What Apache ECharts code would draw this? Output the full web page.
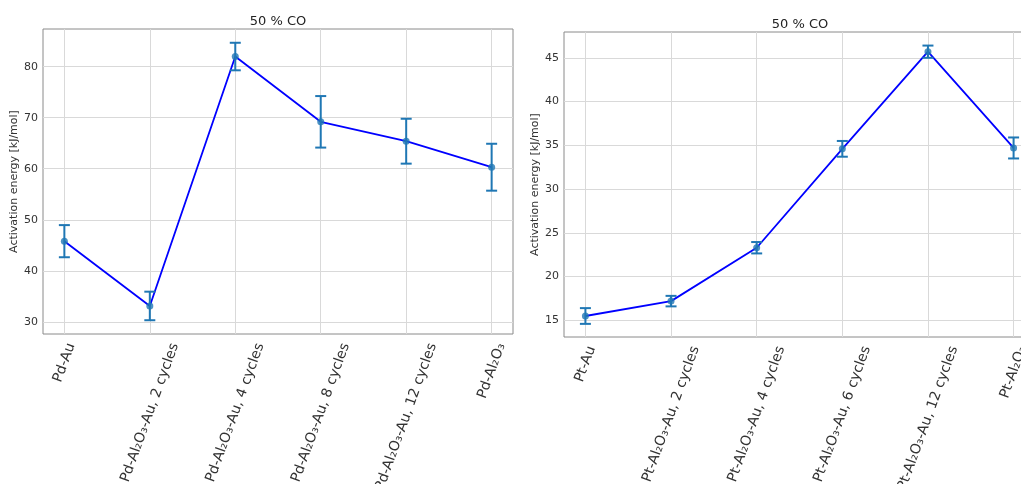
<!DOCTYPE html>
<html>
<head>
<meta charset="utf-8">
<script src="https://cdn.jsdelivr.net/npm/echarts@6/dist/echarts.min.js"></script>
<style>
  html, body { margin: 0; padding: 0; background: #ffffff; }
  #chart { width: 1021px; height: 484px; }
</style>
</head>
<body>
<div id="chart"></div>
<script>
// Activation energies at 50 % CO, Pd series (left panel) and Pt series (right panel)
const pdLabels = ['Pd-Au', 'Pd-Al₂O₃-Au, 2 cycles', 'Pd-Al₂O₃-Au, 4 cycles', 'Pd-Al₂O₃-Au, 8 cycles', 'Pd-Al₂O₃-Au, 12 cycles', 'Pd-Al₂O₃'];
const pdEnergy = [45.8, 33.1, 82.0, 69.2, 65.4, 60.3];
const pdError = [3.15, 2.8, 2.7, 5.05, 4.4, 4.6];
const pdTicks = [30, 40, 50, 60, 70, 80];

const ptLabels = ['Pt-Au', 'Pt-Al₂O₃-Au, 2 cycles', 'Pt-Al₂O₃-Au, 4 cycles', 'Pt-Al₂O₃-Au, 6 cycles', 'Pt-Al₂O₃-Au, 12 cycles', 'Pt-Al₂O₃'];
const ptEnergy = [15.5, 17.2, 23.3, 34.6, 45.7, 34.7];
const ptError = [0.9, 0.6, 0.65, 0.9, 0.7, 1.2];
const ptTicks = [15, 20, 25, 30, 35, 40, 45];

const titleText = '50 % CO';
const yName = 'Activation energy [kJ/mol]';

const FONT = '"DejaVu Sans", sans-serif';
const LABEL_SIZE = 14;
const LABEL_ROT = 70 * Math.PI / 180;
const TEXT = '#333333';
const GRID_LINE = '#d9d9d9';
const SPINE = '#8a8a8a';
const ERR_COLOR = '#1f77b4';

const measureCtx = document.createElement('canvas').getContext('2d');
measureCtx.font = LABEL_SIZE + 'px ' + FONT;
function textWidth(s) { return measureCtx.measureText(s).width; }

const chart = echarts.init(document.getElementById('chart'), null, { renderer: 'canvas' });

function xAxisFor(gridIndex) {
  return {
    type: 'value', gridIndex: gridIndex, min: -0.25, max: 5.25,
    axisLine: { show: false },
    axisTick: { show: false, customValues: [0, 1, 2, 3, 4, 5] },
    axisLabel: { show: false, customValues: [0, 1, 2, 3, 4, 5] },
    splitLine: { show: true, lineStyle: { color: GRID_LINE, width: 1 } }
  };
}

function yAxisFor(gridIndex, min, max, ticks, nameGap) {
  return {
    type: 'value', gridIndex: gridIndex, min: min, max: max,
    name: yName, nameLocation: 'middle', nameGap: nameGap,
    nameTextStyle: { fontSize: 11, color: TEXT, fontFamily: FONT },
    axisLine: { show: false },
    axisTick: { show: false, customValues: ticks },
    axisLabel: { customValues: ticks, fontSize: 11, color: TEXT, fontFamily: FONT, margin: 5 },
    splitLine: { show: true, lineStyle: { color: GRID_LINE, width: 1 } }
  };
}

// Rotated category labels: each label's bounding box is centred under its tick
function labelSeries(idx, labels, yMin) {
  return {
    type: 'custom', xAxisIndex: idx, yAxisIndex: idx, silent: true, clip: false, z: 5,
    data: labels.map((_, i) => [i, yMin]),
    encode: { x: 0, y: 1 },
    renderItem: function (params, api) {
      const i = api.value(0);
      const p = api.coord([i, yMin]);
      const s = labels[i];
      const L = textWidth(s);
      const h = 16;
      const boxH = L * Math.sin(LABEL_ROT) + h * Math.cos(LABEL_ROT);
      const top = p[1] + 7;
      return {
        type: 'text', x: p[0], y: top + boxH / 2, rotation: LABEL_ROT,
        style: { text: s, fontSize: LABEL_SIZE, fontFamily: FONT, fill: TEXT, align: 'center', verticalAlign: 'middle' }
      };
    }
  };
}

function errorSeries(idx, values, errors) {
  return {
    type: 'custom', xAxisIndex: idx, yAxisIndex: idx, silent: true, z: 3,
    data: values.map((v, i) => [i, v, errors[i]]),
    encode: { x: 0, y: 1 },
    renderItem: function (params, api) {
      const x = api.value(0), v = api.value(1), e = api.value(2);
      const hi = api.coord([x, v + e]);
      const lo = api.coord([x, v - e]);
      const w = 5.5;
      const st = { stroke: ERR_COLOR, lineWidth: 2 };
      return {
        type: 'group',
        children: [
          { type: 'line', shape: { x1: hi[0], y1: hi[1], x2: lo[0], y2: lo[1] }, style: st },
          { type: 'line', shape: { x1: hi[0] - w, y1: hi[1], x2: hi[0] + w, y2: hi[1] }, style: st },
          { type: 'line', shape: { x1: lo[0] - w, y1: lo[1], x2: lo[0] + w, y2: lo[1] }, style: st }
        ]
      };
    }
  };
}

function lineSeries(idx, values) {
  return {
    type: 'line', xAxisIndex: idx, yAxisIndex: idx, z: 2,
    data: values.map((v, i) => [i, v]),
    showSymbol: false, silent: true,
    lineStyle: { color: '#0000ff', width: 1.8 }
  };
}

function markerSeries(idx, values) {
  return {
    type: 'scatter', xAxisIndex: idx, yAxisIndex: idx, z: 4,
    data: values.map((v, i) => [i, v]),
    symbol: 'circle', symbolSize: 7, silent: true,
    itemStyle: { color: ERR_COLOR }
  };
}

const pdRange = [27.6, 87.4];
const ptRange = [13.1, 47.95];

chart.setOption({
  animation: false,
  backgroundColor: '#ffffff',
  title: [
    { text: titleText, left: 273, top: 10, textAlign: 'center',
      textStyle: { fontSize: 13, fontWeight: 'normal', color: '#222222', fontFamily: FONT } },
    { text: titleText, left: 795, top: 13, textAlign: 'center',
      textStyle: { fontSize: 13, fontWeight: 'normal', color: '#222222', fontFamily: FONT } }
  ],
  grid: [
    { left: 43, top: 29, width: 470, height: 305, outerBoundsMode: 'none', containLabel: false,
      show: true, borderColor: SPINE, borderWidth: 1, backgroundColor: 'transparent' },
    { left: 564, top: 32, width: 471, height: 305, outerBoundsMode: 'none', containLabel: false,
      show: true, borderColor: SPINE, borderWidth: 1, backgroundColor: 'transparent' }
  ],
  xAxis: [xAxisFor(0), xAxisFor(1)],
  yAxis: [
    yAxisFor(0, pdRange[0], pdRange[1], pdTicks, 21),
    yAxisFor(1, ptRange[0], ptRange[1], ptTicks, 22)
  ],
  series: [
    lineSeries(0, pdEnergy),
    errorSeries(0, pdEnergy, pdError),
    markerSeries(0, pdEnergy),
    labelSeries(0, pdLabels, pdRange[0]),
    lineSeries(1, ptEnergy),
    errorSeries(1, ptEnergy, ptError),
    markerSeries(1, ptEnergy),
    labelSeries(1, ptLabels, ptRange[0])
  ]
});
</script>
</body>
</html>
